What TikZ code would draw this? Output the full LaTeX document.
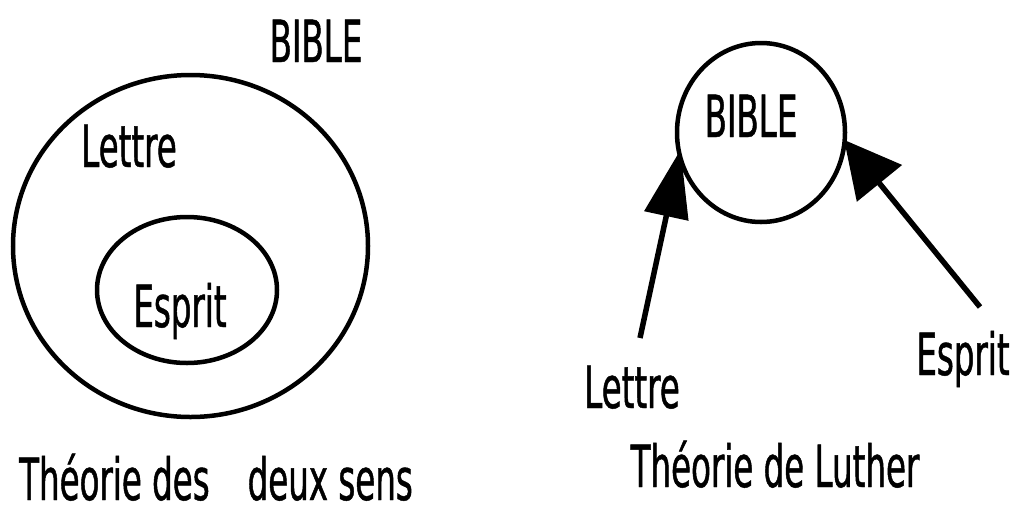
\documentclass[tikz,border=0pt]{standalone}
\usepackage{fontspec}
\setmainfont{DejaVu Sans}[FakeStretch=0.56,FakeBold=0.8]
\usetikzlibrary{arrows.meta,shapes.geometric}
\begin{document}
\begin{tikzpicture}[x=1pt,y=-1pt,
  lbl/.style={font=\fontsize{58}{60}\selectfont, inner sep=0pt, anchor=base},
  ring/.style={draw, ellipse, line width=4.5pt, inner sep=0pt},
  pointer/.style={line width=5.5pt}
]
\useasboundingbox (0,0) rectangle (1014,507);
% left: theory of two senses
\node[ring, minimum width=355pt, minimum height=342pt] (bigE) at (190.5,246) {};
\node[ring, minimum width=180pt, minimum height=146pt] (smallE) at (187,290) {};
\node[lbl] (bibleL) at (316,62) {BIBLE};
\node[lbl] (lettreL) at (129,167) {Lettre};
\node[lbl] (espritL) at (180,327) {Esprit};
\node[lbl, anchor=base west] (titleL) at (19,500) {Théorie des\hspace{38pt}deux sens};
% right: Luther
\node[ring, minimum width=168pt, minimum height=179pt] (bib) at (761,132.5) {};
\node[lbl] (bibleR) at (751,137) {BIBLE};
\node[lbl] (lettreR) at (632,408) {Lettre};
\node[lbl] (espritR) at (963,375) {Esprit};
\node[lbl] (titleR) at (775,487) {Théorie de Luther};
\coordinate (lstart) at (640,338);
\coordinate (estart) at (980,307);
\draw[pointer, shorten >=-10pt, -{Triangle[length=68pt,width=44pt]}] (lstart) -- (bib.198);
\draw[pointer, shorten >=-4pt, -{Triangle[length=56pt,width=57pt]}] (estart) -- (bib.353);
\end{tikzpicture}
\end{document}
